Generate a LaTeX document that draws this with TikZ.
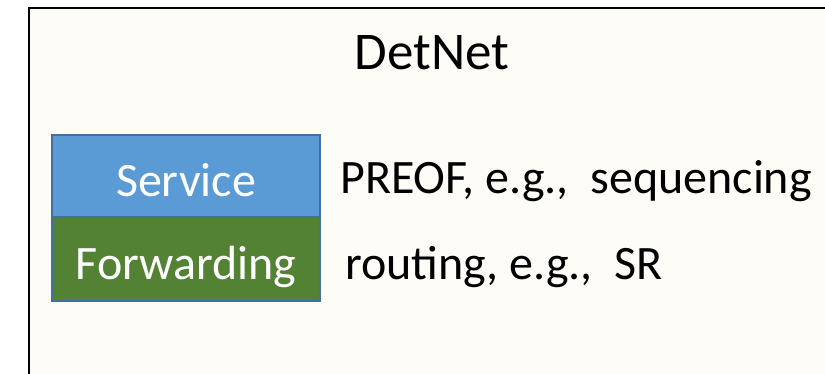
\documentclass[tikz,border=0pt]{standalone}
\usepackage{fontspec}
\setmainfont{Carlito}
\definecolor{bgc}{HTML}{FDFCF7}
\definecolor{svc}{HTML}{5B9BD5}
\definecolor{fwd}{HTML}{548235}
\definecolor{edgec}{HTML}{41719C}
\tikzset{
  layerbox/.style={draw=edgec, line width=1.5pt, minimum width=268pt, minimum height=82pt,
    inner sep=0pt, text=white, font=\fontsize{48}{58}\selectfont, text height=42pt, text depth=0pt},
  desc/.style={inner sep=0pt, anchor=base west, font=\fontsize{48}{58}\selectfont},
}
\begin{document}
\begin{tikzpicture}[x=1pt,y=1pt]
\useasboundingbox (0,0) rectangle (825,374);
\clip (0,0) rectangle (825,374);
\draw[line width=2.5pt, fill=bgc] (29,366) rectangle (860,-20);
\node[inner sep=0pt, anchor=base, font=\fontsize{53}{63}\selectfont] (title) at (432,304) {DetNet};
\node[layerbox, fill=svc] (service) at (186,198) {Service};
\node[layerbox, fill=fwd, minimum height=84pt] (forwarding) at (186,115) {Forwarding};
\node[desc] (preof) at (340,180) {PREOF, e.g.,\ \ sequencing};
\node[desc] (routing) at (345,94) {routing, e.g.,\ \ SR};
\end{tikzpicture}
\end{document}
